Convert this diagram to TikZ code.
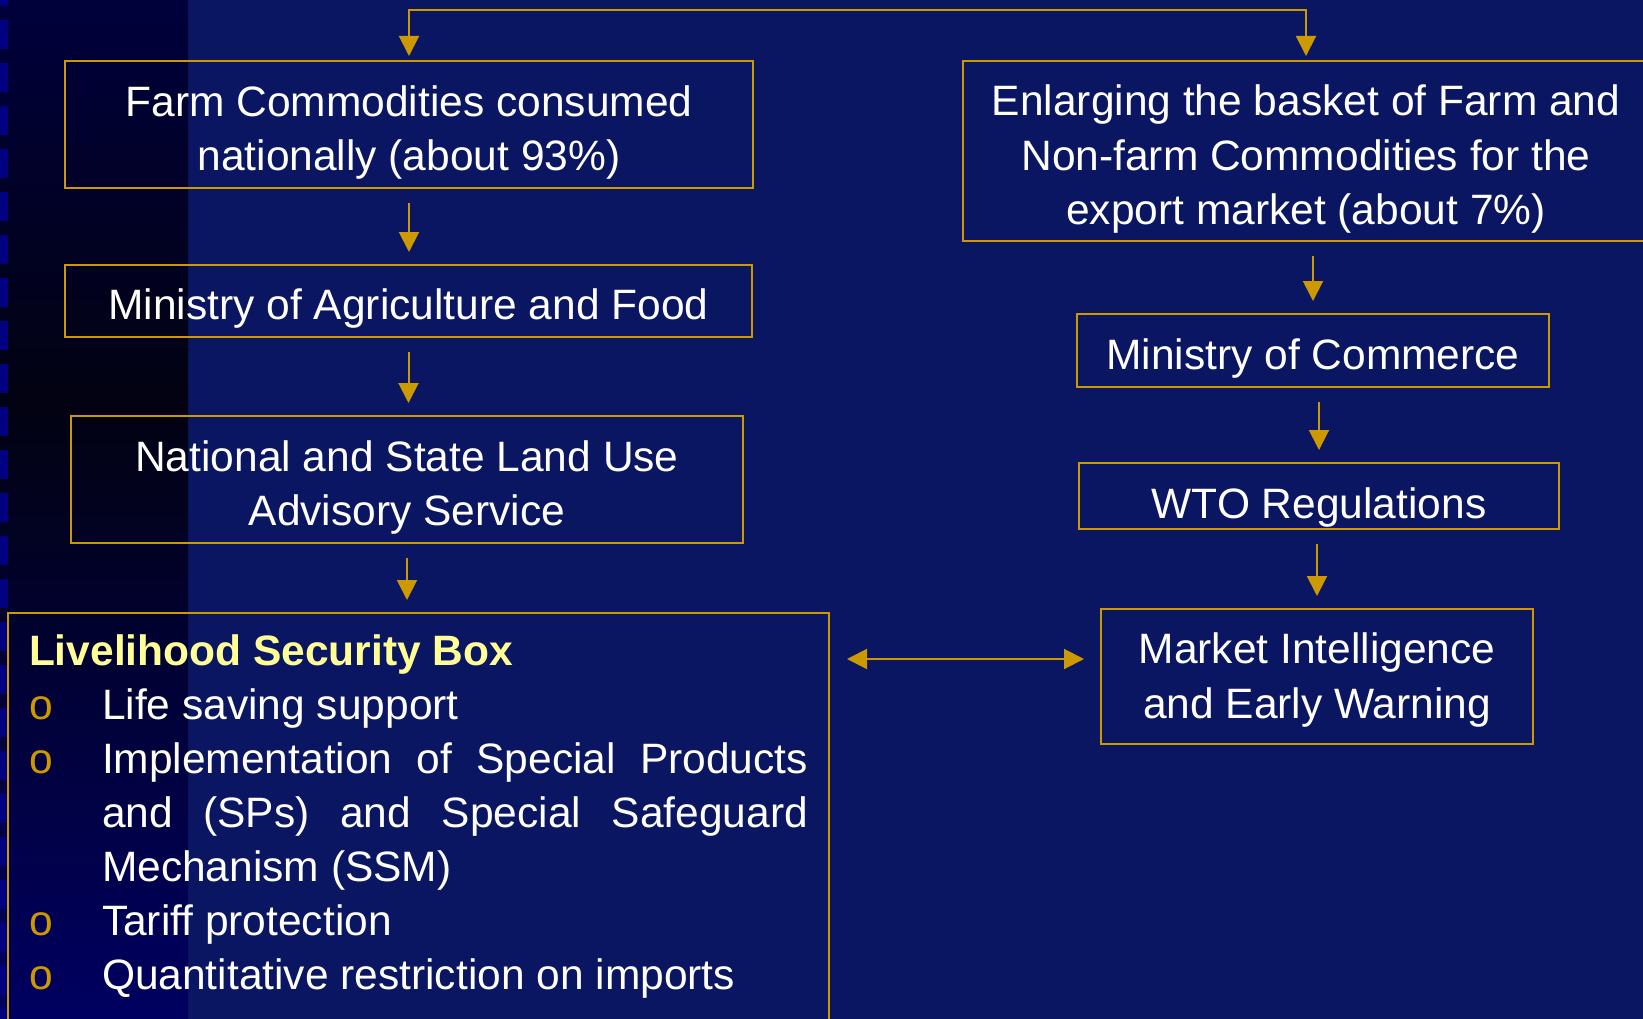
\documentclass[tikz,border=0pt]{standalone}
\usepackage{fontspec}
\setmainfont{Liberation Sans}
\usetikzlibrary{arrows.meta}
\definecolor{navy}{RGB}{11,22,98}
\definecolor{striptop}{RGB}{0,0,60}
\definecolor{stripmid}{RGB}{2,2,18}
\definecolor{stripbot}{RGB}{0,0,96}
\definecolor{stripdash}{RGB}{0,0,128}
\definecolor{gold}{RGB}{204,153,0}
\definecolor{paleyellow}{RGB}{255,255,150}
\tikzset{
  box/.style={draw=gold,line width=2pt,text=white,inner sep=0pt,align=center,
    font=\fontsize{42.5}{54.5}\selectfont},
  arr/.style={draw=gold,line width=2pt,-{Triangle[length=20pt,width=20pt]},shorten <=14pt,shorten >=12pt},
}
% extra room above the first line pushes the text down in its box
\newcommand{\topgap}[1]{\rule{0pt}{#1}}
\newcommand{\bullitem}[1]{\par\hangindent=73pt\hangafter=1\noindent\makebox[73pt][l]{\textcolor{gold}{o}}#1}
\begin{document}
\begin{tikzpicture}[x=1pt,y=-1pt]
\useasboundingbox (0,0) rectangle (1643,1019);
\clip (0,0) rectangle (1643,1019);
% background and the dark band on the left
\fill[navy] (0,0) rectangle (1643,1019);
\shade[top color=striptop,bottom color=stripmid] (0,0) rectangle (188,400);
\shade[top color=stripmid,bottom color=stripbot] (0,400) rectangle (188,1019);
\draw[stripdash,line width=8pt,dash pattern=on 29pt off 14pt] (4,-23)--(4,1019);
%
\node[box,minimum width=688pt,minimum height=127pt] (farm) at (409,124.5) {\topgap{47pt}Farm Commodities consumed\\nationally (about 93\%)};
\node[box,minimum width=687pt,minimum height=72pt] (agri) at (408.5,301) {\topgap{46pt}Ministry of Agriculture and Food};
\node[box,minimum width=672pt,minimum height=127pt] (landuse) at (407,479.5) {\topgap{47pt}National and State Land Use\\Advisory Service};
\node[draw=gold,line width=2pt,text=white,anchor=north west,inner xsep=21pt,inner ysep=22pt,text width=779pt,
  align=justify,font=\fontsize{42.5}{54}\selectfont] (security) at (7,612) {\parindent=0pt\parskip=0pt
  \noindent{\color{paleyellow}\bfseries Livelihood Security Box}
  \bullitem{Life saving support}
  \bullitem{Implementation of Special Products\linebreak and (SPs) and Special Safeguard\linebreak Mechanism (SSM)}
  \bullitem{Tariff protection}
  \bullitem{Quantitative restriction on imports}
  \par\vspace*{40pt}};
%
\node[box,minimum width=686pt,minimum height=180pt] (export) at (1306,151) {\topgap{47pt}Enlarging the basket of Farm and\\Non-farm Commodities for the\\export market (about 7\%)};
\node[box,minimum width=472pt,minimum height=73pt] (commerce) at (1313,350.5) {\topgap{46pt}Ministry of Commerce};
\node[box,minimum width=480pt,minimum height=66pt] (wto) at (1319,496) {\topgap{54pt}WTO Regulations};
\node[box,minimum width=432pt,minimum height=135pt] (market) at (1317,676.5) {\topgap{38pt}Market Intelligence\\and Early Warning};
%
\coordinate (split) at (860,10.5);
\coordinate (link) at (0,659);
\draw[arr,shorten <=0pt,shorten >=4pt] (split) -| (farm.north);
\draw[arr,shorten <=0pt,shorten >=4pt] (split) -| (export.north);
\draw[arr] (farm.south) -- (farm.south |- agri.north);
\draw[arr] (agri.south) -- (agri.south |- landuse.north);
\draw[arr] (landuse.south) -- (landuse.south |- security.north);
\draw[arr] (export.south -| commerce.north) -- (commerce.north);
\draw[arr] (commerce.south -| wto.north) -- (wto.north);
\draw[arr] (wto.south -| market.north) -- (market.north);
\draw[arr,{Triangle[length=20pt,width=20pt]}-{Triangle[length=20pt,width=20pt]},shorten <=17pt,shorten >=16pt] (security.east |- link) -- (market.west |- link);
\end{tikzpicture}
\end{document}
